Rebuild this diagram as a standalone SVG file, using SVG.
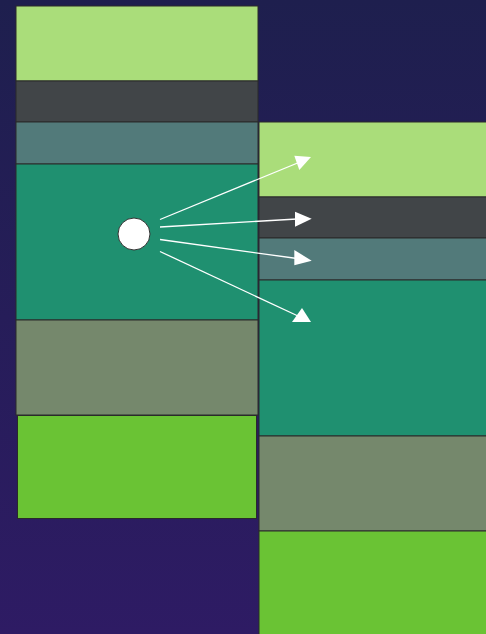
<svg xmlns="http://www.w3.org/2000/svg" width="486" height="634" viewBox="0 0 486 634">
<defs>
<linearGradient id="bg" x1="0" y1="0" x2="0" y2="1">
<stop offset="0" stop-color="#1e1f4e"/>
<stop offset="1" stop-color="#2e1b64"/>
</linearGradient>
<style>
.b{stroke:#2a2a2a;stroke-width:1}
.lg{fill:#aadd7a}
.dg{fill:#414548}
.tg{fill:#527a7a}
.gr{fill:#1f9070}
.gg{fill:#75886c}
.bg{fill:#6ac334}
.ln{stroke:#ffffff;stroke-width:1.3;fill:none}
.ah{fill:#ffffff}
</style>
</defs>
<rect x="0" y="0" width="486" height="634" fill="url(#bg)"/>
<g id="left">
<rect class="b lg" x="16" y="6" width="242" height="75"/>
<rect class="b dg" x="16" y="81" width="242" height="41"/>
<rect class="b tg" x="16" y="122" width="242" height="42"/>
<rect class="b gr" x="16" y="164" width="242" height="156"/>
<rect class="b gg" x="16" y="320" width="242" height="95"/>
<rect class="b bg" x="17.5" y="415.5" width="239" height="103"/>
</g>
<g id="right">
<rect class="b lg" x="259" y="122" width="230" height="75"/>
<rect class="b dg" x="259" y="197" width="230" height="41"/>
<rect class="b tg" x="259" y="238" width="230" height="42"/>
<rect class="b gr" x="259" y="280" width="230" height="156"/>
<rect class="b gg" x="259" y="436" width="230" height="95"/>
<rect class="b bg" x="259" y="531" width="230" height="106"/>
</g>
<g id="source">
<circle cx="134" cy="234" r="16" fill="#ffffff" stroke="#333333" stroke-width="1"/>
</g>
<g id="connectors">
<line class="ln" x1="160" y1="219.5" x2="300" y2="162"/>
<polygon class="ah" points="294.3,155.7 311,157 299.3,170"/>
<line class="ln" x1="160" y1="227" x2="297" y2="219"/>
<polygon class="ah" points="295,211.7 311.7,218.7 295,226.7"/>
<line class="ln" x1="160" y1="239.5" x2="297" y2="258.5"/>
<polygon class="ah" points="294.3,250 311.7,260.7 294.3,265.3"/>
<line class="ln" x1="160" y1="251.5" x2="298" y2="316"/>
<polygon class="ah" points="292,322 302,308 311,322"/>
</g>
</svg>
